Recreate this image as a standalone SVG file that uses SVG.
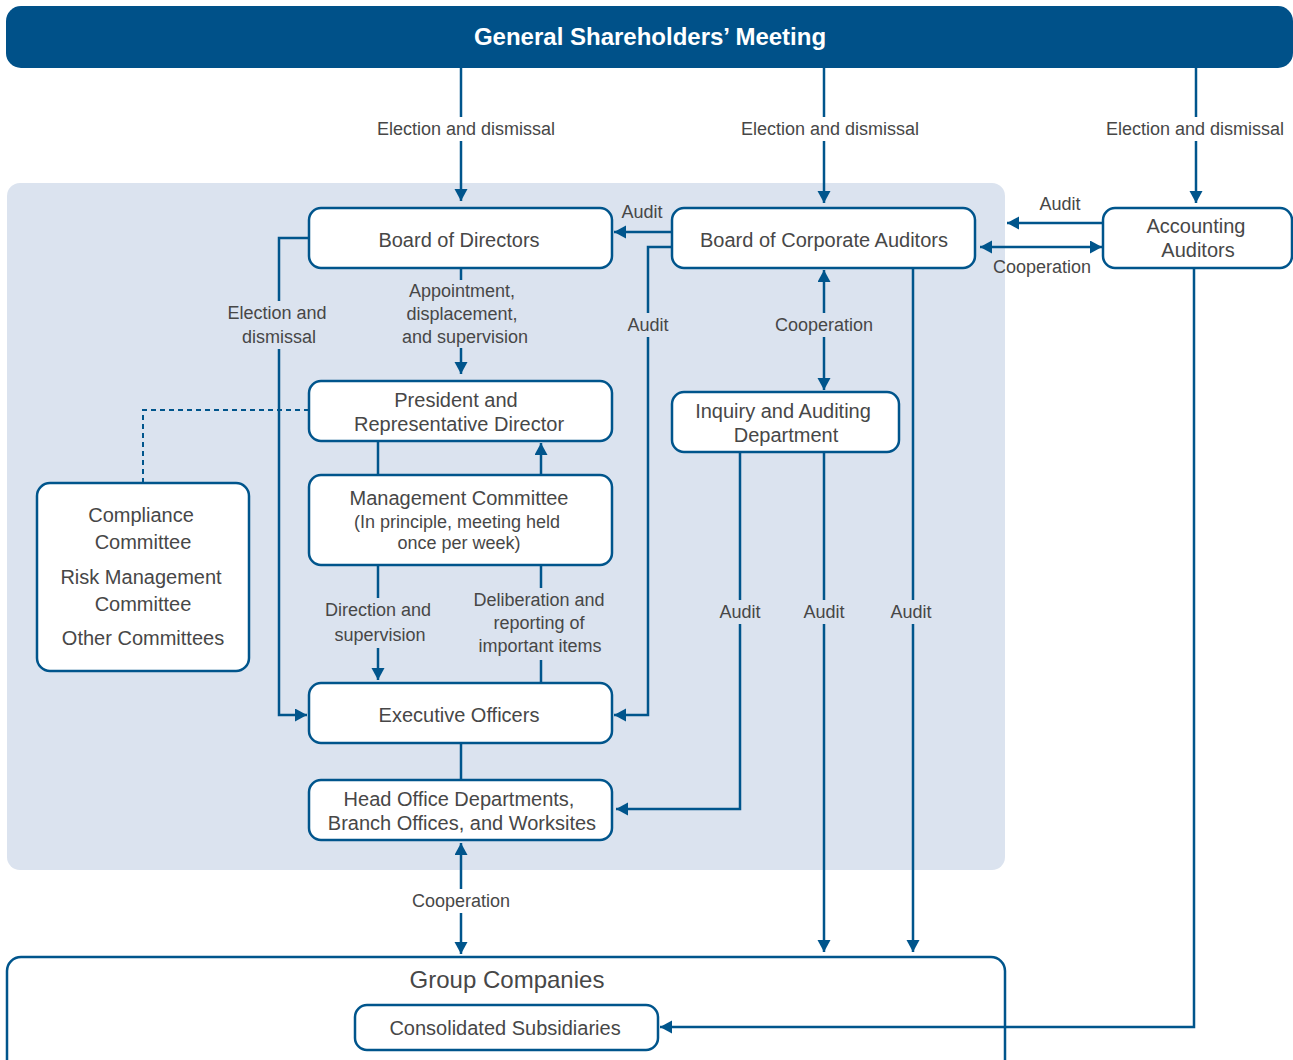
<svg xmlns="http://www.w3.org/2000/svg" width="1293" height="1060" viewBox="0 0 1293 1060">
<style>
.box{fill:#fff;stroke:#00558c;stroke-width:2.5}
.ln{fill:none;stroke:#00558c;stroke-width:2.5}
.ar{marker-end:url(#ah)}
.ar2{marker-start:url(#ah);marker-end:url(#ah)}
.dash{fill:none;stroke:#00558c;stroke-width:2;stroke-dasharray:5 4}
.t{font-family:"Liberation Sans",Arial,sans-serif;font-size:20px;fill:#474747;text-anchor:middle}
.l{font-family:"Liberation Sans",Arial,sans-serif;font-size:18px;fill:#474747;text-anchor:middle}
.bp{fill:#dbe3ef}
.bw{fill:#fff}
</style>
<defs>
<marker id="ah" markerUnits="userSpaceOnUse" markerWidth="14" markerHeight="14" refX="12" refY="6.5" orient="auto-start-reverse">
<path d="M0,0 L12,6.5 L0,13 z" fill="#00558c"/>
</marker>
</defs>
<rect x="0" y="0" width="1293" height="1060" fill="#fff"/>
<rect x="7" y="183" width="998" height="687" rx="13" fill="#dbe3ef"/>

<g id="gsm">
<rect x="6" y="6" width="1287" height="62" rx="15" fill="#005189"/>
<text x="650" y="45" font-family="'Liberation Sans',Arial,sans-serif" font-size="24" font-weight="bold" fill="#fff" text-anchor="middle">General Shareholders’ Meeting</text>
</g>
<g id="bod">
<rect class="box" x="309" y="208" width="303" height="60" rx="12"/>
<text class="t" x="459" y="247">Board of Directors</text>
</g>
<g id="bca">
<rect class="box" x="672" y="208" width="303" height="60" rx="12"/>
<text class="t" x="824" y="247">Board of Corporate Auditors</text>
</g>
<g id="aa">
<rect class="box" x="1103" y="208" width="189" height="60" rx="12"/>
<text class="t" x="1196" y="233">Accounting</text>
<text class="t" x="1198" y="257">Auditors</text>
</g>
<g id="president">
<rect class="box" x="309" y="381" width="303" height="60" rx="12"/>
<text class="t" x="456" y="407">President and</text>
<text class="t" x="459" y="431">Representative Director</text>
</g>
<g id="mgmt">
<rect class="box" x="309" y="475" width="303" height="90" rx="12"/>
<text class="t" x="459" y="505">Management Committee</text>
<text class="l" x="457" y="528">(In principle, meeting held</text>
<text class="l" x="459" y="549">once per week)</text>
</g>
<g id="exec">
<rect class="box" x="309" y="683" width="303" height="60" rx="12"/>
<text class="t" x="459" y="722">Executive Officers</text>
</g>
<g id="head">
<rect class="box" x="309" y="780" width="303" height="60" rx="12"/>
<text class="t" x="459" y="806">Head Office Departments,</text>
<text class="t" x="462" y="830">Branch Offices, and Worksites</text>
</g>
<g id="inquiry">
<rect class="box" x="672" y="392" width="227" height="60" rx="12"/>
<text class="t" x="783" y="418">Inquiry and Auditing</text>
<text class="t" x="786" y="442">Department</text>
</g>
<g id="committees">
<rect class="box" x="37" y="483" width="212" height="188" rx="13"/>
<text class="t" x="141" y="522">Compliance</text>
<text class="t" x="143" y="549">Committee</text>
<text class="t" x="141" y="584">Risk Management</text>
<text class="t" x="143" y="611">Committee</text>
<text class="t" x="143" y="645">Other Committees</text>
</g>
<g id="group">
<rect x="7" y="957" width="998" height="130" rx="14" fill="none" stroke="#00558c" stroke-width="2.5"/>
<text x="507" y="988" font-family="'Liberation Sans',Arial,sans-serif" font-size="24" fill="#474747" text-anchor="middle">Group Companies</text>
</g>
<g id="subs">
<rect class="box" x="355" y="1005" width="303" height="45" rx="12"/>
<text class="t" x="505" y="1035">Consolidated Subsidiaries</text>
</g>

<g id="connectors">
<path class="ln ar" d="M461,68 V201"/>
<path class="ln ar" d="M824,68 V203"/>
<path class="ln ar" d="M1196,68 V203"/>
<path class="ln ar" d="M672,232 H614"/>
<path class="ln ar" d="M672,247 H648 V715 H614"/>
<path class="ln ar" d="M1103,223 H1007"/>
<path class="ln ar2" d="M980,247 H1102"/>
<path class="ln ar2" d="M824,270 V390"/>
<path class="ln ar" d="M913,268 V952"/>
<path class="ln ar" d="M824,452 V952"/>
<path class="ln ar" d="M740,452 V809 H616"/>
<path class="ln ar" d="M1194,268 V1027 H660"/>
<path class="ln ar" d="M309,238 H279 V715 H307"/>
<path class="ln ar" d="M461,268 V374"/>
<path class="dash" d="M309,410 H143 V483"/>
<path class="ln" d="M378,441 V475"/>
<path class="ln ar" d="M541,475 V443"/>
<path class="ln ar" d="M378,565 V680"/>
<path class="ln" d="M541,565 V683"/>
<path class="ln" d="M461,743 V780"/>
<path class="ln ar2" d="M461,843 V954"/>

<rect class="bw" x="370" y="117" width="192" height="24"/>
<rect class="bw" x="734" y="117" width="192" height="24"/>
<rect class="bw" x="1100" y="117" width="190" height="24"/>
<rect class="bp" x="624" y="313" width="48" height="24"/>
<rect class="bp" x="770" y="313" width="108" height="24"/>
<rect class="bp" x="224" y="301" width="108" height="48"/>
<rect class="bp" x="398" y="280" width="128" height="68"/>
<rect class="bp" x="320" y="598" width="116" height="50"/>
<rect class="bp" x="466" y="588" width="148" height="72"/>
<rect class="bp" x="716" y="600" width="48" height="24"/>
<rect class="bp" x="800" y="600" width="48" height="24"/>
<rect class="bp" x="887" y="600" width="48" height="24"/>
<rect class="bw" x="406" y="889" width="110" height="24"/>

<text class="l" x="466" y="135">Election and dismissal</text>
<text class="l" x="830" y="135">Election and dismissal</text>
<text class="l" x="1195" y="135">Election and dismissal</text>
<text class="l" x="642" y="218">Audit</text>
<text class="l" x="1060" y="210">Audit</text>
<text class="l" x="1042" y="273">Cooperation</text>
<text class="l" x="648" y="331">Audit</text>
<text class="l" x="824" y="331">Cooperation</text>
<text class="l" x="277" y="319">Election and</text>
<text class="l" x="279" y="343">dismissal</text>
<text class="l" x="462" y="297">Appointment,</text>
<text class="l" x="462" y="320">displacement,</text>
<text class="l" x="465" y="343">and supervision</text>
<text class="l" x="378" y="616">Direction and</text>
<text class="l" x="380" y="641">supervision</text>
<text class="l" x="539" y="606">Deliberation and</text>
<text class="l" x="539" y="629">reporting of</text>
<text class="l" x="540" y="652">important items</text>
<text class="l" x="740" y="618">Audit</text>
<text class="l" x="824" y="618">Audit</text>
<text class="l" x="911" y="618">Audit</text>
<text class="l" x="461" y="907">Cooperation</text>
</g>
</svg>
